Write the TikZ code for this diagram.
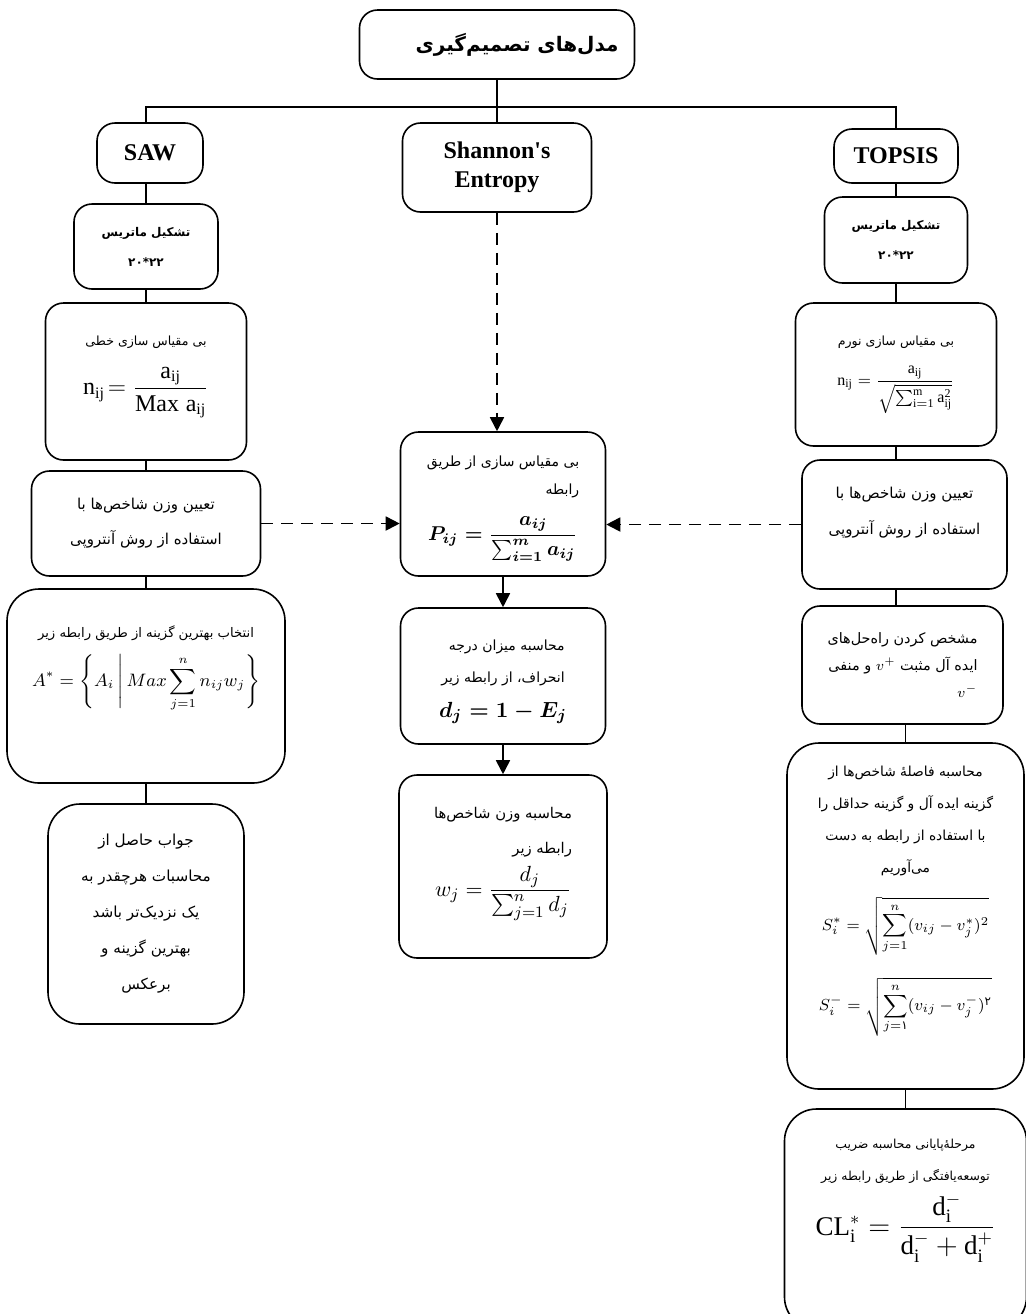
\documentclass[tikz,border=0pt]{standalone}
\usepackage{amsmath}
\usepackage{fontspec}
\setmainfont{Liberation Serif}
\newfontfamily\farsi[Script=Arabic]{DejaVu Sans}
\TeXXeTstate=1
\newcommand{\fa}[1]{\beginR #1\endR}
\newcommand{\farlines}[1]{\begin{tabular}{@{}r@{}}#1\end{tabular}}
\newcommand{\fsize}[2]{\fontsize{#1}{#2}\selectfont}
\usetikzlibrary{arrows.meta}
\begin{document}
\begin{tikzpicture}[x=0.5pt,y=-0.5pt,
    box/.style={draw,rounded corners=9pt,line width=0.8pt,align=center,inner sep=2pt,
      font=\farsi\fsize{7}{16}},
    big/.style={box,rounded corners=16pt},
    title/.style={box,font=\bfseries\fsize{12}{14.5}},
    link/.style={line width=0.9pt},
    flow/.style={line width=0.9pt,-{Triangle[length=7pt,width=7pt]}},
    dflow/.style={flow,dash pattern=on 6pt off 4pt}]
  \useasboundingbox (0,0) rectangle (1026,1314);
  \node[box,minimum width=137.5pt,minimum height=34.5pt,
    font=\farsi\bfseries\fsize{10}{12}] (top) at (497,44.5) {\hspace*{20pt}\fa{مدل‌های تصمیم‌گیری}};
  \node[title,minimum width=53pt,minimum height=30pt] (saw) at (150,153) {SAW};
  \node[title,minimum width=94.5pt,minimum height=44.5pt] (shannon) at (497,167.5) {Shannon\textquotesingle s\\Entropy};
  \node[title,minimum width=62pt,minimum height=27pt] (topsis) at (896,156) {TOPSIS};
  \node[box,minimum width=72pt,minimum height=42.5pt,
    font=\farsi\bfseries\fsize{6}{15}] (matL) at (146,246.5) {\fa{تشکیل ماتریس}\\۲۲*۲۰};
  \node[box,minimum width=100.5pt,minimum height=78.5pt,font=\farsi\fsize{6.3}{14}] (normL) at (146,381.5)
    {\fa{بی مقیاس سازی خطی}\\[8pt]
     {\large$\mathrm{n}_{\mathrm{ij}}\!=\dfrac{\mathrm{a_{ij}}}{\mathrm{Max\;a_{ij}}}$}\\[2pt]\mbox{}};
  \node[box,minimum width=114.5pt,minimum height=52.5pt,
    font=\farsi\fsize{7.5}{17.5}] (wL) at (146,523.5) {\fa{تعیین وزن شاخص‌ها با}\\\fa{استفاده از روش آنتروپی}};
  \node[big,minimum width=139pt,minimum height=97pt,font=\farsi\fsize{6.6}{14}] (best) at (146,686)
    {\fa{انتخاب بهترین گزینه از طریق رابطه زیر}\\[6pt]
     {\fsize{9}{11}$\displaystyle A^*=\left\{A_i\,\middle|\,Max\sum_{j=1}^{n}n_{ij}w_j\right\}$}\\[16pt]\mbox{}};
  \node[big,minimum width=98pt,minimum height=110pt,
    font=\farsi\fsize{7.6}{18}] (answer) at (146,914)
    {\fa{جواب حاصل از}\\\fa{محاسبات هرچقدر به}\\\fa{یک نزدیک‌تر باشد}\\\fa{بهترین گزینه و}\\\fa{برعکس}};
  \node[box,minimum width=102.5pt,minimum height=72pt,font=\farsi\fsize{7}{14}] (normM) at (503,504)
    {\farlines{\fa{بی مقیاس سازی از طریق}\\\fa{رابطه}}\\[6pt]
     {\normalsize\boldmath$\displaystyle P_{ij}=\frac{a_{ij}}{\sum\nolimits_{i=1}^{m}a_{ij}}$}};
  \node[box,minimum width=102.5pt,minimum height=68pt,font=\farsi\fsize{7}{16}] (devM) at (503,676)
    {\farlines{\fa{محاسبه میزان درجه}\\\fa{انحراف، از رابطه زیر}}\\[4pt]
     {\fsize{11}{13}\boldmath$d_j=1-E_j$}};
  \node[box,minimum width=104pt,minimum height=91.5pt,font=\farsi\fsize{7.4}{17.5}] (wM) at (503,866.5)
    {\farlines{\fa{محاسبه وزن شاخص‌ها}\\\fa{رابطه زیر}}\\[0pt]
     {\fsize{11}{13}$\displaystyle w_j=\frac{d_j}{\sum_{j=1}^{n}d_j}$}\\[4pt]\mbox{}};
  \node[box,minimum width=71.5pt,minimum height=43pt,
    font=\farsi\bfseries\fsize{6}{15}] (matR) at (896,240) {\fa{تشکیل ماتریس}\\۲۲*۲۰};
  \node[box,minimum width=100.5pt,minimum height=71.5pt,font=\farsi\fsize{6.3}{14}] (normR) at (896,374.5)
    {\fa{بی مقیاس سازی نورم}\\[6pt]
     {\fsize{8}{10}$\mathrm{n_{ij}}=\dfrac{\mathrm{a_{ij}}}{\sqrt{\sum_{\mathrm{i=1}}^{\mathrm{m}}\mathrm{a_{ij}^2}}}$}};
  \node[box,minimum width=102.5pt,minimum height=64.5pt,
    font=\farsi\fsize{7.5}{18}] (wR) at (904.5,524.5)
    {\fa{تعیین وزن شاخص‌ها با}\\\fa{استفاده از روش آنتروپی}\\[-4pt]\mbox{}};
  \node[box,minimum width=100.5pt,minimum height=59pt,align=right,
    font=\farsi\fsize{7.2}{13.5}] (idealR) at (902.5,665)
    {\fa{مشخص  کردن  راه‌حل‌های}\\\fa{ایده آل مثبت \beginL$v^{+}$\endL{} و منفی}\\$v^{-}$};
  \node[big,minimum width=118.5pt,minimum height=173pt,font=\farsi\fsize{6.9}{16}] (distR) at (905.5,916)
    {\fa{محاسبه فاصلهٔ شاخص‌ها از}\\\fa{گزینه ایده آل و گزینه حداقل را}\\
     \fa{با استفاده از رابطه به دست}\\\fa{می‌آوریم}\\[10pt]
     {\fsize{8.5}{10}$\displaystyle S_i^{*}=\sqrt{\sum_{j=1}^{n}(v_{ij}-v_j^{*})^{2}}$}\\[10pt]
     {\fsize{8.5}{10}$\displaystyle S_i^{-}=\sqrt{\sum_{j=\text{\farsi ۱}}^{n}(v_{ij}-v_j^{-})^{\text{\farsi ۲}}}$}\\[12pt]\mbox{}};
  \node[big,minimum width=121pt,minimum height=110pt,font=\farsi\fsize{6.2}{16}] (finalR) at (905.5,1219)
    {\fa{مرحلهٔ‌پایانی محاسبه ضریب}\\\fa{توسعه‌یافتگی از طریق رابطه زیر}\\[4pt]
     {\fsize{13.5}{16}$\mathrm{CL_i^*}=\dfrac{\mathrm{d_i^-}}{\mathrm{d_i^-+d_i^+}}$}\\[16pt]\mbox{}};
  \coordinate (bar) at (497,107);
  \draw[link] (saw.north -| matL) |- (bar) -| (topsis.north);
  \draw[link] (top) -- (shannon);
  \draw[link] (saw.south -| matL) -- (matL) -- (normL) -- (wL) -- (best) -- (answer);
  \draw[link] (topsis) -- (matR) -- (normR);
  \draw[link] (normR.south) -- (normR.south |- wR.north);
  \draw[link] (wR.south -| normR) -- (idealR.north -| normR);
  \draw[link] (idealR.south -| distR) -- (distR);
  \draw[link] (distR) -- (finalR);
  \draw[dflow] (shannon) -- (shannon.south |- normM.north);
  \draw[dflow] (wL.east) -- (wL.east -| normM.west);
  \draw[dflow] (wR.west) -- (wR.west -| normM.east);
  \draw[flow] (normM) -- (devM);
  \draw[flow] (devM) -- (wM);
\end{tikzpicture}
\end{document}
